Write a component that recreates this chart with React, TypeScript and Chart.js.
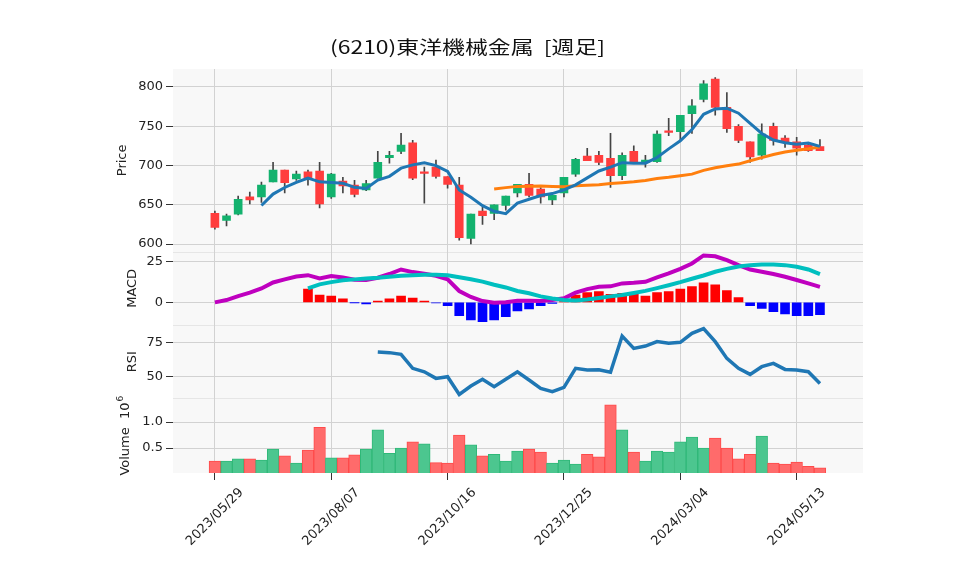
import React, { useEffect, useRef } from 'react';
import { Chart, registerables } from 'chart.js';

Chart.register(...registerables);

const TITLE = '(6210)東洋機械金属  [週足]';

const dates = [
  '2023/05/29', '2023/06/05', '2023/06/12', '2023/06/19', '2023/06/26', '2023/07/03', '2023/07/10', '2023/07/17',
  '2023/07/24', '2023/07/31', '2023/08/07', '2023/08/14', '2023/08/21', '2023/08/28', '2023/09/04', '2023/09/11',
  '2023/09/18', '2023/09/25', '2023/10/02', '2023/10/09', '2023/10/16', '2023/10/23', '2023/10/30', '2023/11/06',
  '2023/11/13', '2023/11/20', '2023/11/27', '2023/12/04', '2023/12/11', '2023/12/18', '2023/12/25', '2024/01/01',
  '2024/01/08', '2024/01/15', '2024/01/22', '2024/01/29', '2024/02/05', '2024/02/12', '2024/02/19', '2024/02/26',
  '2024/03/04', '2024/03/11', '2024/03/18', '2024/03/25', '2024/04/01', '2024/04/08', '2024/04/15', '2024/04/22',
  '2024/04/29', '2024/05/06', '2024/05/13', '2024/05/20', '2024/05/27',
];

const opens = [
  639, 630, 638, 660, 660, 679, 694, 683, 692, 693, 660, 680, 675, 669, 684, 710, 718, 729, 690, 698,
  686, 675, 607, 642, 639, 649, 665, 676, 670, 656, 665, 689, 712, 713, 709, 687, 718, 704, 705, 744,
  743, 766, 784, 810, 774, 750, 730, 713, 750, 735, 730, 726, 724,
];
const highs = [
  642, 638, 661, 666, 679, 704, 694, 693, 694, 704, 690, 685, 681, 681, 718, 718, 741, 732, 698, 707,
  686, 685, 638, 647, 650, 661, 676, 690, 672, 662, 685, 709, 722, 718, 741, 716, 725, 713, 744, 760,
  764, 784, 808, 812, 793, 752, 730, 753, 754, 738, 736, 729, 733,
];
const lows = [
  619, 623, 637, 651, 653, 679, 665, 681, 675, 646, 658, 665, 660, 668, 684, 703, 715, 682, 652, 684,
  671, 605, 600, 625, 631, 643, 660, 660, 652, 650, 660, 686, 706, 701, 672, 682, 703, 698, 704, 738,
  733, 741, 781, 764, 742, 729, 704, 708, 726, 723, 713, 718, 719,
];
const closes = [
  621, 636, 657, 656, 675, 694, 678, 689, 684, 651, 689, 674, 663, 677, 704, 713, 726, 684, 690, 686,
  676, 608, 638, 636, 650, 661, 676, 662, 660, 662, 685, 708, 706, 704, 687, 713, 704, 707, 740, 742,
  764, 776, 804, 774, 747, 732, 711, 740, 732, 730, 722, 719, 719,
];

// 5-week moving average (from week index 4)
const MA5_START = 4;
const ma5 = [
  649, 663.6, 672, 678.4, 684, 679.2, 678.2, 677.4, 672.2, 670.8, 681.4, 686.2, 696.6, 700.8, 703.4, 699.8,
  692.4, 668.8, 659.6, 648.8, 641.6, 638.6, 652.2, 657, 661.8, 664.2, 669, 675.4, 684.2, 693, 698, 703.6,
  702.8, 703, 710.2, 721.2, 731.4, 745.8, 765.2, 772, 773, 766.6, 753.6, 740.8, 732.4, 729, 727, 728.6, 724.4,
];
// 25-week moving average (from week index 24)
const MA25_START = 24;
const ma25 = [
  670.2, 671.8, 673.4, 673.6, 673.8, 673.2, 672.9, 674.1, 674.8, 675.6, 677, 678, 679.2, 680.9, 683.4, 685,
  687, 689, 693.8, 697.2, 699.6, 701.8, 706, 710, 713.9, 717.1, 719.5, 721.2, 723.5,
];

const macd = [
  0, 1.4, 3.9, 6.0, 8.6, 12.3, 14.2, 16.0, 16.8, 14.8, 16.2, 15.4, 14.0, 13.8, 15.2, 17.5, 20.3, 18.7, 17.7, 16.4,
  14.2, 7.0, 3.3, 0.8, -0.2, 0, 1.0, 1.0, 0.8, 1.4, 2.5, 6.0, 8.2, 9.6, 9.9, 11.7, 12.1, 12.7, 15.4, 17.9,
  20.7, 24.0, 29.0, 28.5, 26.1, 23.0, 20.3, 18.9, 17.5, 15.8, 13.8, 11.7, 9.6,
];
const SIGNAL_START = 8;
const signal = [
  8.6, 11.1, 12.5, 13.6, 14.2, 14.8, 15.2, 15.8, 16.4, 16.8, 17.0, 17.0, 16.8, 15.5, 14.3, 12.8, 10.9, 9.2,
  7.0, 5.6, 3.7, 2.4, 1.4, 1.2, 1.8, 2.7, 3.7, 4.6, 5.8, 7.1, 8.8, 10.6, 12.5, 14.6, 16.6, 18.9, 20.7, 22.2,
  23.0, 23.4, 23.4, 23.0, 22.0, 20.3, 17.5,
];
const HIST_START = 8;
const hist = [
  8.2, 4.5, 3.9, 2.1, -0.2, -1.0, 0.8, 2.1, 3.9, 2.7, 0.8, -0.3, -2.1, -8.2, -10.9, -11.9, -10.9, -8.8,
  -5.3, -4.1, -2.1, -0.6, 0.5, 4.5, 6.0, 6.6, 4.9, 5.5, 5.5, 3.9, 6.0, 6.6, 8.2, 9.7, 12.1, 10.9, 7.2, 2.9,
  -2.1, -3.7, -5.7, -7.2, -8.2, -8.2, -7.6,
];
const RSI_START = 14;
const rsi = [
  68.0, 67.5, 66.3, 56.1, 53.6, 48.8, 50.0, 37.1, 43.2, 48.1, 42.7, 48.1, 53.6, 47.6, 41.5, 39.1, 42.2, 56.1,
  54.9, 55.1, 53.2, 79.6, 70.6, 72.3, 75.5, 74.3, 75.0, 81.6, 85.0, 75.5, 63.3, 56.1, 51.7, 57.3, 59.7, 55.3,
  54.9, 53.6, 45.1,
];
// weekly volume, millions of shares
const volume = [
  0.25, 0.25, 0.29, 0.29, 0.27, 0.48, 0.35, 0.21, 0.46, 0.90, 0.31, 0.31, 0.37, 0.48, 0.85, 0.40, 0.50, 0.62,
  0.58, 0.22, 0.21, 0.75, 0.56, 0.35, 0.38, 0.25, 0.44, 0.48, 0.42, 0.21, 0.27, 0.19, 0.38, 0.33, 1.33, 0.85,
  0.42, 0.25, 0.44, 0.42, 0.62, 0.71, 0.50, 0.69, 0.50, 0.29, 0.38, 0.73, 0.21, 0.19, 0.23, 0.15, 0.12,
];

const xTickIndex = [0, 10, 20, 30, 40, 50];
const xTickLabels = xTickIndex.map((i) => dates[i]);
const priceTicks = [600, 650, 700, 750, 800];
const macdTicks = [0, 25];
const rsiTicks = [50, 75];
const volumeTicks = [0.5, 1.0];

const W = 958;
const H = 575;
const AREA = { left: 173, right: 863, top: 69, bottom: 473 };
const GRID = '#d2d2d2';
const TEXT = '#222';
const TICK = '#333';
const FONT = "'DejaVu Sans', sans-serif";
const CJK = "'Noto Sans CJK JP', sans-serif";
const GREEN = '#13b26e';
const RED = '#ff3d3d';
const VOL_GREEN = '#4cc68f';
const VOL_GREEN_EDGE = '#2fb878';
const VOL_RED = '#ff6b6b';
const VOL_RED_EDGE = '#ff4a4a';

function yAxis(min: number, max: number, ticks: number[], weight: number, fmt: (v: number) => string) {
  return {
    type: 'linear',
    position: 'left',
    stack: 'panels',
    stackWeight: weight,
    min,
    max,
    afterBuildTicks: (s: any) => {
      s.ticks = ticks.map((v) => ({ value: v }));
    },
    afterFit: (s: any) => {
      s.width = AREA.left;
    },
    ticks: {
      color: TEXT,
      font: { family: FONT, size: 13 },
      padding: 3,
      callback: (v: any) => fmt(Number(v)),
    },
    grid: { color: GRID, lineWidth: 1, tickColor: TICK, tickLength: 7, tickWidth: 1, offset: false },
    border: { display: false },
  };
}

const decorPlugin = {
  id: 'decor',
  beforeDraw(chart: any) {
    const { ctx, chartArea: a, scales: s } = chart;
    ctx.save();
    ctx.fillStyle = '#ffffff';
    ctx.fillRect(0, 0, W, H);
    ctx.fillStyle = '#f8f8f8';
    ctx.fillRect(a.left, a.top, a.right - a.left, a.bottom - a.top);
    ctx.strokeStyle = '#e6e6e6';
    ctx.lineWidth = 1;
    [s.yPrice.bottom, s.yMacd.bottom, s.yRsi.bottom].forEach((y: number) => {
      ctx.beginPath();
      ctx.moveTo(a.left, Math.round(y) + 0.5);
      ctx.lineTo(a.right, Math.round(y) + 0.5);
      ctx.stroke();
    });
    ctx.restore();
  },
  afterDraw(chart: any) {
    const { ctx, scales: s } = chart;
    ctx.save();
    // title
    ctx.font = `18px ${CJK}`;
    ctx.fillStyle = '#111';
    ctx.textAlign = 'left';
    ctx.textBaseline = 'alphabetic';
    const tw = ctx.measureText(TITLE).width;
    const sx = Math.min(1.5, Math.max(0.8, 275 / tw));
    ctx.save();
    ctx.translate(330, 54);
    ctx.scale(sx, 1);
    ctx.fillText(TITLE, 0, 0);
    ctx.restore();

    // axis titles
    ctx.font = `13px ${FONT}`;
    ctx.fillStyle = TEXT;
    const vlabel = (text: string, x: number, y: number) => {
      ctx.save();
      ctx.translate(x, y);
      ctx.rotate(-Math.PI / 2);
      ctx.textAlign = 'center';
      ctx.textBaseline = 'middle';
      ctx.fillText(text, 0, 0);
      ctx.restore();
    };
    vlabel('Price', 123, (s.yPrice.top + s.yPrice.bottom) / 2);
    vlabel('MACD', 133, (s.yMacd.top + s.yMacd.bottom) / 2);
    vlabel('RSI', 133, (s.yRsi.top + s.yRsi.bottom) / 2);

    // "Volume  10^6" with a real superscript
    {
      const main = 'Volume  10';
      const sup = '6';
      ctx.font = `13px ${FONT}`;
      const wMain = ctx.measureText(main).width;
      ctx.font = `9px ${FONT}`;
      const wSup = ctx.measureText(sup).width;
      const total = wMain + wSup + 1;
      const cy = (s.yVol.top + s.yVol.bottom) / 2;
      ctx.save();
      ctx.translate(126, cy);
      ctx.rotate(-Math.PI / 2);
      ctx.textAlign = 'left';
      ctx.textBaseline = 'middle';
      ctx.font = `13px ${FONT}`;
      ctx.fillText(main, -total / 2, 0);
      ctx.font = `9px ${FONT}`;
      ctx.fillText(sup, -total / 2 + wMain + 1, -5);
      ctx.restore();
    }

    // x tick labels (rotated, centred on the tick)
    ctx.font = `13px ${FONT}`;
    xTickIndex.forEach((i, k) => {
      const x = s.x.getPixelForValue(i);
      ctx.save();
      ctx.translate(x, 517);
      ctx.rotate(-Math.PI / 4);
      ctx.textAlign = 'center';
      ctx.textBaseline = 'middle';
      ctx.fillText(xTickLabels[k], 0, 0);
      ctx.restore();
    });
    ctx.restore();
  },
};

export default function App() {
  const ref = useRef<HTMLCanvasElement>(null);

  useEffect(() => {
    const canvas = ref.current;
    if (!canvas) return;
    const idx = closes.map((_, i) => i);
    const series = (arr: number[], start: number) => arr.map((v, k) => ({ x: start + k, y: v }));

    const datasets: any[] = [
      {
        type: 'bar',
        label: 'wick',
        yAxisID: 'yPrice',
        data: idx.map((i) => ({ x: i, y: [lows[i], highs[i]] })),
        backgroundColor: '#444444',
        barThickness: 1,
        grouped: false,
        order: 20,
      },
      {
        type: 'bar',
        label: 'body',
        yAxisID: 'yPrice',
        data: idx.map((i) => ({ x: i, y: [opens[i], closes[i]] })),
        backgroundColor: idx.map((i) => (closes[i] > opens[i] ? GREEN : RED)),
        barThickness: 8,
        minBarLength: 1.5,
        grouped: false,
        order: 19,
      },
      {
        type: 'line',
        label: 'MA5',
        yAxisID: 'yPrice',
        data: series(ma5, MA5_START),
        borderColor: '#1f77b4',
        borderWidth: 3,
        pointRadius: 0,
        tension: 0,
        order: 2,
      },
      {
        type: 'line',
        label: 'MA25',
        yAxisID: 'yPrice',
        data: series(ma25, MA25_START),
        borderColor: '#ff7f0e',
        borderWidth: 3,
        pointRadius: 0,
        tension: 0,
        order: 2,
      },
      {
        type: 'bar',
        label: 'hist',
        yAxisID: 'yMacd',
        data: series(hist, HIST_START),
        backgroundColor: hist.map((v) => (v >= 0 ? '#ff0000' : '#0000ff')),
        barThickness: 9,
        grouped: false,
        order: 18,
      },
      {
        type: 'line',
        label: 'MACD',
        yAxisID: 'yMacd',
        data: series(macd, 0),
        borderColor: '#bf00bf',
        borderWidth: 4,
        pointRadius: 0,
        tension: 0,
        order: 2,
      },
      {
        type: 'line',
        label: 'Signal',
        yAxisID: 'yMacd',
        data: series(signal, SIGNAL_START),
        borderColor: '#00bfbf',
        borderWidth: 4,
        pointRadius: 0,
        tension: 0,
        order: 1,
      },
      {
        type: 'line',
        label: 'RSI',
        yAxisID: 'yRsi',
        data: series(rsi, RSI_START),
        borderColor: '#1f77b4',
        borderWidth: 3.5,
        pointRadius: 0,
        tension: 0,
        order: 2,
      },
      {
        type: 'bar',
        label: 'Volume',
        yAxisID: 'yVol',
        data: series(volume, 0),
        backgroundColor: idx.map((i) => (i > 0 && closes[i] > closes[i - 1] ? VOL_GREEN : VOL_RED)),
        borderColor: idx.map((i) => (i > 0 && closes[i] > closes[i - 1] ? VOL_GREEN_EDGE : VOL_RED_EDGE)),
        borderWidth: 1,
        borderSkipped: false,
        barPercentage: 1,
        categoryPercentage: 1,
        grouped: false,
        order: 18,
      },
    ];

    const chart = new Chart(canvas, {
      type: 'bar',
      data: { datasets },
      options: {
        animation: false,
        responsive: false,
        maintainAspectRatio: false,
        layout: { padding: { top: AREA.top, right: W - AREA.right, left: 0, bottom: 0 } },
        plugins: {
          legend: { display: false },
          tooltip: { enabled: false },
          title: { display: false },
        },
        scales: {
          x: {
            type: 'linear',
            min: -3.6,
            max: 55.7,
            offset: false,
            afterBuildTicks: (sc: any) => {
              sc.ticks = xTickIndex.map((v) => ({ value: v }));
            },
            afterFit: (sc: any) => {
              sc.height = H - AREA.bottom;
            },
            ticks: { display: false },
            grid: { color: GRID, lineWidth: 1, tickColor: TICK, tickLength: 7, tickWidth: 1, offset: false },
            border: { display: false },
          },
          yVol: yAxis(0.02, 1.456, volumeTicks, 74.7, (v) => v.toFixed(1)),
          yRsi: yAxis(34.3, 87.6, rsiTicks, 73.3, (v) => String(v)),
          yMacd: yAxis(-14.0, 31.3, macdTicks, 73.3, (v) => String(v)),
          yPrice: yAxis(590.2, 822.9, priceTicks, 182.7, (v) => String(v)),
        } as any,
      },
      plugins: [decorPlugin as any],
    } as any);

    return () => chart.destroy();
  }, []);

  return (
    <div style={{ position: 'fixed', left: 0, top: 0, width: W, height: H, background: '#fff' }}>
      <canvas ref={ref} width={W} height={H} style={{ width: W, height: H, display: 'block' }} />
    </div>
  );
}
